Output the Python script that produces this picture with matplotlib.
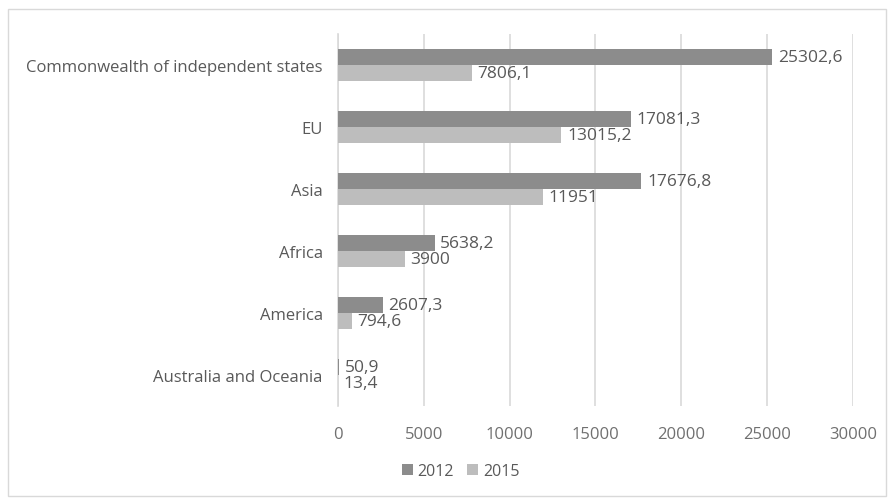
import numpy as np
import matplotlib.pyplot as plt
from matplotlib.patches import Rectangle

regions = ["Commonwealth of independent states", "EU", "Asia", "Africa",
           "America", "Australia and Oceania"]
values_2012 = [25302.6, 17081.3, 17676.8, 5638.2, 2607.3, 50.9]
values_2015 = [7806.1, 13015.2, 11951, 3900, 794.6, 13.4]
years = ["2012", "2015"]

plt.rcParams["font.family"] = ["Open Sans", "DejaVu Sans"]
text_color = "#595959"


def fmt(v):
    return f"{v:.10g}".replace(".", ",")


fig = plt.figure(figsize=(8.94, 5.02), dpi=100)
ax = fig.add_axes([0.378, 0.189, 0.576, 0.741])

y = np.arange(len(regions))
h = 0.26
b1 = ax.barh(y - h / 2, values_2012, height=h, color="#8c8c8c", label=years[0], zorder=3)
b2 = ax.barh(y + h / 2, values_2015, height=h, color="#bdbdbd", label=years[1], zorder=3)

for bars, vals in [(b1, values_2012), (b2, values_2015)]:
    for bar, v in zip(bars, vals):
        ax.text(bar.get_width() + 330, bar.get_y() + bar.get_height() / 2, fmt(v),
                va="center", ha="left", fontsize=12.5, color=text_color)

ax.set_xlim(0, 30000)
ax.set_xticks(range(0, 30001, 5000))
ax.set_ylim(len(regions) - 0.5, -0.5)
ax.set_yticks(y)
ax.set_yticklabels(regions)
ax.tick_params(length=0, labelsize=12, colors=text_color)
ax.tick_params(axis="x", pad=14, colors="#707070")
ax.tick_params(axis="y", pad=11)
ax.grid(axis="x", color="#d9d9d9", linewidth=1.2, zorder=0)
for side in ["top", "right", "bottom"]:
    ax.spines[side].set_visible(False)
ax.spines["left"].set_color("#d9d9d9")
ax.spines["left"].set_linewidth(1.2)

fig.legend(loc="center", bbox_to_anchor=(0.515, 0.06), ncol=2, frameon=False,
           fontsize=11.5, labelcolor=text_color, handlelength=0.7, handleheight=0.7,
           columnspacing=0.8, handletextpad=0.3)

fig.patches.append(Rectangle((0.009, 0.01), 0.982, 0.97, transform=fig.transFigure,
                             fill=False, edgecolor="#d9d9d9", linewidth=1))

fig.savefig("out.png", dpi=100)
